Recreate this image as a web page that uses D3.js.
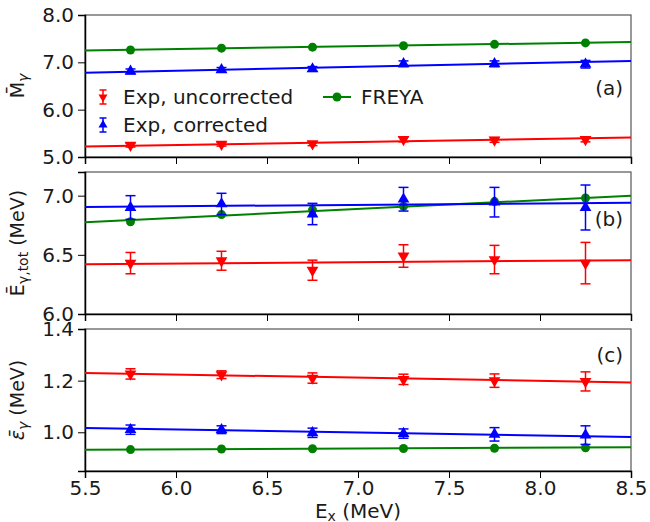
<!DOCTYPE html>
<html>
<head>
<meta charset="utf-8">
<script src="https://cdn.jsdelivr.net/npm/d3@7"></script>
<style>
body { margin: 0; background: #fff; }
text { font-family: "DejaVu Sans", sans-serif; }
</style>
</head>
<body>
<svg id="chart" width="650" height="522"></svg>
<script>
// beam energies (MeV)
let ex = [5.75, 6.25, 6.75, 7.25, 7.75, 8.25]
let xTicks = [5.5, 6.0, 6.5, 7.0, 7.5, 8.0, 8.5]

// panel (a) multiplicity
let multUnc = [5.25, 5.27, 5.28, 5.37, 5.36, 5.37]
let multUncErr = [0.04, 0.04, 0.04, 0.05, 0.05, 0.05]
let multCor = [6.81, 6.84, 6.86, 6.97, 6.97, 6.96]
let multCorErr = [0.05, 0.05, 0.05, 0.06, 0.06, 0.08]
let multFreya = [7.26, 7.30, 7.32, 7.35, 7.38, 7.41]
let multFit = { unc: [5.22, 5.41], cor: [6.78, 7.03], freya: [7.25, 7.43] }

// panel (b) total energy
let etotUnc = [6.43, 6.45, 6.37, 6.49, 6.46, 6.43]
let etotUncErr = [0.09, 0.08, 0.085, 0.095, 0.12, 0.175]
let etotCor = [6.90, 6.93, 6.845, 6.97, 6.945, 6.90]
let etotCorErr = [0.10, 0.09, 0.09, 0.10, 0.125, 0.19]
let etotFreya = [6.78, 6.84, 6.88, 6.91, 6.95, 6.98]
let etotFit = { unc: [6.42, 6.455], cor: [6.905, 6.94], freya: [6.775, 7.00] }

// panel (c) mean photon energy
let epsUnc = [1.226, 1.223, 1.21, 1.205, 1.20, 1.197]
let epsUncErr = [0.02, 0.015, 0.02, 0.02, 0.026, 0.037]
let epsCor = [1.01, 1.01, 0.998, 0.995, 0.992, 0.989]
let epsCorErr = [0.018, 0.015, 0.018, 0.018, 0.026, 0.036]
let epsFreya = [0.933, 0.935, 0.936, 0.937, 0.938, 0.94]
let epsFit = { unc: [1.23, 1.193], cor: [1.017, 0.982], freya: [0.932, 0.942] }

let red = '#ff0000', blue = '#0000ff', green = '#008000'

let svg = d3.select('#chart')
let left = 85, right = 631

let x = d3.scaleLinear().domain([5.5, 8.5]).range([left, right])

let panels = [
    { top: 15, bottom: 157, domain: [5.0, 8.0], ticks: [5, 6, 7, 8], fmt: d3.format('.1f'),
      unc: multUnc, uncErr: multUncErr, cor: multCor, corErr: multCorErr, freya: multFreya, fit: multFit,
      tag: '(a)', tagX: 623, tagY: 95 },
    { top: 172, bottom: 314, domain: [6.0, 7.2], ticks: [6.0, 6.5, 7.0], fmt: d3.format('.1f'),
      unc: etotUnc, uncErr: etotUncErr, cor: etotCor, corErr: etotCorErr, freya: etotFreya, fit: etotFit,
      tag: '(b)', tagX: 623, tagY: 226 },
    { top: 329, bottom: 471, domain: [0.85, 1.4], ticks: [1.0, 1.2, 1.4], fmt: d3.format('.1f'),
      unc: epsUnc, uncErr: epsUncErr, cor: epsCor, corErr: epsCorErr, freya: epsFreya, fit: epsFit,
      tag: '(c)', tagX: 623, tagY: 362 }
]

let tri = d3.symbol().type(d3.symbolTriangle).size(60)
let triSmall = d3.symbol().type(d3.symbolTriangle).size(35)

function drawSeries(g, y, vals, errs, fit, color, kind) {
    g.append('line')
        .attr('x1', x(5.5)).attr('x2', x(8.5))
        .attr('y1', y(fit[0])).attr('y2', y(fit[1]))
        .attr('stroke', color).attr('stroke-width', 2)
    if (errs) {
        let eb = g.append('g').attr('stroke', color).attr('stroke-width', 1.5)
        vals.forEach((v, i) => {
            let cx = x(ex[i])
            eb.append('line').attr('x1', cx).attr('x2', cx).attr('y1', y(v - errs[i])).attr('y2', y(v + errs[i]))
            eb.append('line').attr('x1', cx - 5).attr('x2', cx + 5).attr('y1', y(v - errs[i])).attr('y2', y(v - errs[i]))
            eb.append('line').attr('x1', cx - 5).attr('x2', cx + 5).attr('y1', y(v + errs[i])).attr('y2', y(v + errs[i]))
        })
    }
    let pts = g.append('g')
    vals.forEach((v, i) => {
        if (kind == 'circle') {
            pts.append('circle').attr('cx', x(ex[i])).attr('cy', y(v)).attr('r', 4.5).attr('fill', color)
        } else {
            let rot = kind == 'down' ? 180 : 0
            pts.append('path').attr('d', tri)
                .attr('transform', `translate(${x(ex[i])},${y(v)}) rotate(${rot})`)
                .attr('fill', color)
        }
    })
}

panels.forEach((p, k) => {
    let y = d3.scaleLinear().domain(p.domain).range([p.bottom, p.top])
    let g = svg.append('g')

    // frame top/right
    g.append('rect').attr('x', left).attr('y', p.top).attr('width', right - left).attr('height', p.bottom - p.top)
        .attr('fill', 'none').attr('stroke', '#555').attr('stroke-width', 1.2)

    let ya = g.append('g').attr('transform', `translate(${left},0)`)
        .call(d3.axisLeft(y).tickValues(p.ticks).tickFormat(p.fmt).tickSize(7).tickPadding(4))
    ya.select('.domain').attr('stroke', '#000').attr('stroke-width', 1.5)
    ya.selectAll('text').attr('font-size', 20).attr('fill', '#1a1a1a')

    let xa = g.append('g').attr('transform', `translate(0,${p.bottom})`)
        .call(d3.axisBottom(x).tickValues(xTicks).tickFormat(k == 2 ? d3.format('.1f') : '').tickSize(7).tickPadding(3))
    xa.select('.domain').attr('stroke', '#000').attr('stroke-width', 1.5)
    xa.selectAll('text').attr('font-size', 20).attr('fill', '#1a1a1a')

    let plot = g.append('g')
    drawSeries(plot, y, p.freya, null, p.fit.freya, green, 'circle')
    drawSeries(plot, y, p.cor, p.corErr, p.fit.cor, blue, 'up')
    drawSeries(plot, y, p.unc, p.uncErr, p.fit.unc, red, 'down')

    g.append('text').attr('x', p.tagX).attr('y', p.tagY).attr('text-anchor', 'end')
        .attr('font-size', 20).attr('fill', '#1a1a1a').text(p.tag)
})

// y labels
function ylab(cy, build) {
    let t = svg.append('text').attr('transform', `translate(24,${cy}) rotate(-90)`)
        .attr('text-anchor', 'middle').attr('font-size', 19).attr('fill', '#1a1a1a')
    build(t)
}
ylab(86, t => {
    t.append('tspan').text('M\u0304')
    t.append('tspan').attr('font-style', 'italic').attr('font-size', 14).attr('dy', 4).text('γ')
})
ylab(243, t => {
    t.append('tspan').text('E\u0304')
    t.append('tspan').attr('font-size', 14).attr('dy', 4).text('γ,tot')
    t.append('tspan').attr('dy', -4).text(' (MeV)')
})
ylab(400, t => {
    t.append('tspan').attr('font-style', 'italic').text('ε\u0304')
    t.append('tspan').attr('font-style', 'italic').attr('font-size', 14).attr('dy', 4).text('γ')
    t.append('tspan').attr('dy', -4).text(' (MeV)')
})

// x label
let xl = svg.append('text').attr('x', 358).attr('y', 518).attr('text-anchor', 'middle')
    .attr('font-size', 20).attr('fill', '#1a1a1a')
xl.append('tspan').text('E')
xl.append('tspan').attr('font-size', 14).attr('dy', 3).text('x')
xl.append('tspan').attr('dy', -3).text(' (MeV)')

// legend
let legend = [
    { label: 'Exp, uncorrected', color: red, kind: 'down', lx: 103, ly: 97 },
    { label: 'Exp, corrected', color: blue, kind: 'up', lx: 103, ly: 125 },
    { label: 'FREYA', color: green, kind: 'circle', lx: 337, ly: 97 }
]
let lg = svg.append('g')
legend.forEach(d => {
    if (d.kind == 'circle') {
        lg.append('line').attr('x1', d.lx - 14).attr('x2', d.lx + 14).attr('y1', d.ly).attr('y2', d.ly)
            .attr('stroke', d.color).attr('stroke-width', 2)
        lg.append('circle').attr('cx', d.lx).attr('cy', d.ly).attr('r', 4.5).attr('fill', d.color)
    } else {
        let e = lg.append('g').attr('stroke', d.color).attr('stroke-width', 1.5)
        e.append('line').attr('x1', d.lx).attr('x2', d.lx).attr('y1', d.ly - 7).attr('y2', d.ly + 7)
        e.append('line').attr('x1', d.lx - 3.5).attr('x2', d.lx + 3.5).attr('y1', d.ly - 7).attr('y2', d.ly - 7)
        e.append('line').attr('x1', d.lx - 3.5).attr('x2', d.lx + 3.5).attr('y1', d.ly + 7).attr('y2', d.ly + 7)
        lg.append('path').attr('d', triSmall)
            .attr('transform', `translate(${d.lx},${d.ly}) rotate(${d.kind == 'down' ? 180 : 0})`)
            .attr('fill', d.color)
    }
    lg.append('text').attr('x', d.kind == 'circle' ? d.lx + 24 : d.lx + 20).attr('y', d.ly + 7)
        .attr('font-size', 20).attr('fill', '#1a1a1a').text(d.label)
})
</script>
</body>
</html>
